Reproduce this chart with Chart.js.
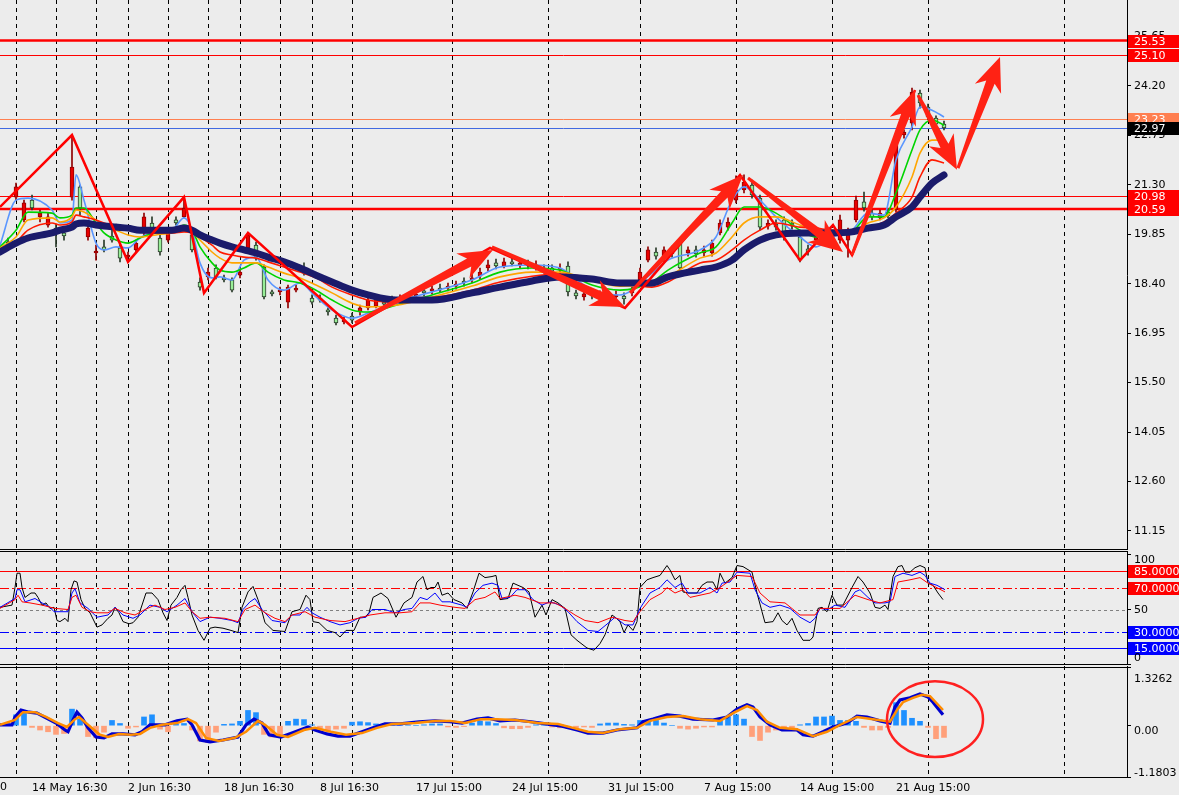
<!DOCTYPE html>
<html>
<head>
<meta charset="utf-8">
<title>Chart</title>
<script src="https://cdn.jsdelivr.net/npm/chart.js"></script>
<style>
html,body{margin:0;padding:0;background:#ececec;overflow:hidden;}
#wrap{position:relative;width:1179px;height:795px;background:#ececec;}
#wrap canvas{position:absolute;left:0;}
</style>
</head>
<body>
<div id="wrap">
<canvas id="cMain" width="1179" height="550" style="top:0px"></canvas>
<canvas id="cOsc" width="1179" height="114" style="top:551px"></canvas>
<canvas id="cMacd" width="1179" height="129" style="top:666px"></canvas>
</div>
<script>
// ---------------- DATA ----------------
// candles (one every 2 bars, bar index = 2,4,...,236)
const candleOpen = [19.62,20.94,20.27,20.85,20.36,20.12,20.03,19.89,20.94,21.24,
19.77,19.30,19.48,19.80,19.45,19.18,19.39,19.89,20.18,19.74,
19.68,20.27,20.36,19.83,18.45,18.60,18.86,18.57,18.51,18.65,
19.45,19.53,18.89,18.13,18.16,17.86,18.21,18.89,17.98,17.98,
17.63,17.39,17.28,17.45,17.57,17.69,17.74,17.86,17.92,17.92,
18.01,18.04,18.16,18.19,18.27,18.27,18.33,18.48,18.51,18.62,
18.86,19.01,18.92,19.04,18.95,18.98,18.89,18.83,18.86,18.80,
18.92,18.13,18.01,18.13,18.04,18.10,18.01,18.04,18.13,18.42,
19.09,19.33,19.15,19.39,19.59,19.30,19.39,19.30,19.30,19.89,
20.06,20.85,21.15,21.29,20.91,20.09,20.15,20.27,20.18,19.77,
19.42,19.68,19.74,19.89,19.68,19.68,20.27,20.80,20.47,20.33,
20.50,20.56,22.76,23.11,23.99,23.58,23.26,23.08];
const candleHigh = [19.74,21.35,20.85,21.00,20.56,20.47,20.15,19.97,22.76,21.29,
20.12,19.53,19.68,19.97,19.53,19.33,19.68,20.47,20.36,19.83,
20.03,20.36,20.94,19.92,18.57,18.86,18.95,18.65,18.57,18.86,
19.89,19.62,18.95,18.21,18.30,18.36,18.36,19.01,18.07,18.07,
17.69,17.48,17.42,17.54,17.77,18.01,18.01,17.95,18.04,18.07,
18.13,18.19,18.27,18.33,18.39,18.42,18.48,18.57,18.68,18.86,
19.09,19.12,19.15,19.15,19.12,19.09,19.07,18.95,18.95,18.98,
19.04,18.21,18.19,18.21,18.19,18.19,18.19,18.13,18.30,18.86,
19.48,19.45,19.48,19.50,19.68,19.48,19.50,19.50,19.68,20.27,
20.33,21.56,21.59,21.44,21.00,20.27,20.27,20.36,20.27,19.89,
19.53,19.92,19.94,19.97,20.41,20.03,20.97,21.09,20.56,20.56,
20.59,22.76,22.91,24.14,24.08,23.67,23.32,23.17];
const candleLow = [19.39,20.85,20.21,20.56,20.21,20.06,19.48,19.68,20.85,20.41,
19.68,19.09,19.33,19.62,19.04,19.04,19.33,19.83,19.83,19.24,
19.62,20.12,20.33,19.33,18.21,18.51,18.54,18.45,18.16,18.57,
19.39,19.09,17.95,18.04,18.07,17.69,18.16,18.65,17.80,17.86,
17.48,17.19,17.22,17.25,17.48,17.63,17.69,17.72,17.77,17.83,
17.86,17.95,18.04,18.10,18.16,18.19,18.24,18.33,18.42,18.54,
18.77,18.83,18.86,18.92,18.86,18.83,18.80,18.71,18.68,18.71,
18.04,17.95,17.92,17.95,17.92,17.92,17.92,17.80,18.04,18.36,
19.04,19.12,19.04,19.18,18.80,19.21,19.18,19.21,19.21,19.83,
19.97,20.77,21.06,20.91,19.97,20.00,19.97,19.68,20.00,19.04,
19.24,19.62,19.65,19.65,19.59,19.18,20.21,20.53,20.27,20.27,
20.33,20.50,22.67,22.91,23.55,23.20,23.02,22.91];
const candleClose = [19.50,21.24,20.77,20.62,20.47,20.36,19.92,19.80,21.82,20.62,
20.03,19.36,19.39,19.68,19.15,19.24,19.59,20.36,19.89,19.33,
19.97,20.18,20.62,19.39,18.30,18.74,18.60,18.51,18.21,18.74,
19.83,19.18,18.01,18.10,18.21,18.30,18.27,18.71,17.86,17.92,
17.57,17.25,17.33,17.33,17.69,17.92,17.92,17.80,17.86,17.98,
17.95,18.07,18.13,18.21,18.21,18.33,18.39,18.42,18.57,18.74,
18.95,18.92,19.04,18.98,19.01,18.92,18.95,18.80,18.77,18.86,
18.16,18.04,18.10,18.04,18.10,18.01,18.07,17.95,18.21,18.74,
19.39,19.21,19.39,19.27,18.86,19.39,19.27,19.39,19.59,20.18,
20.21,21.15,21.38,21.00,20.06,20.18,20.06,19.77,20.09,19.09,
19.33,19.80,19.86,19.74,20.27,19.92,20.85,20.62,20.36,20.47,
20.39,22.61,22.85,24.02,23.70,23.29,23.08,22.97];

// moving-average ribbon (sampled at these bars)
const ribbonBars = [0,4,7,13,15,18,19,21,24,26,29,32,35,39,43,46,48,50,53,55,58,61,64,67,71,75,79,83,88,92,99,108,118,125,133,140,148,155,163,167,175,179,183,186,190,194,200,204,208,213,217,221,224,228,230,233,236];
const maNavy = [19.33,19.59,19.74,19.89,19.97,20.06,20.15,20.18,20.12,20.09,20.06,20.03,19.97,19.97,19.97,20.03,19.97,19.83,19.68,19.59,19.48,19.39,19.30,19.18,19.04,18.86,18.65,18.45,18.21,18.07,17.92,17.92,18.13,18.30,18.48,18.60,18.54,18.42,18.42,18.60,18.80,18.89,19.09,19.39,19.68,19.83,19.89,19.89,19.89,19.92,20.03,20.12,20.36,20.65,20.94,21.35,21.59];
const maBlue = [19.53,20.85,20.91,20.56,20.18,20.27,21.59,20.85,19.59,19.39,19.48,19.45,19.74,19.92,19.97,20.33,19.97,19.01,18.57,18.60,18.51,19.09,19.18,18.51,18.21,18.42,18.01,17.63,17.39,17.54,17.86,18.16,18.51,18.89,18.95,18.86,18.21,18.07,18.71,19.09,19.39,19.77,20.85,21.24,20.85,20.36,19.77,19.48,19.77,19.97,20.47,20.41,22.03,23.00,23.58,23.49,23.29];
const maGreen = [19.48,19.97,20.50,20.47,20.33,20.41,20.62,20.62,20.18,19.89,19.68,19.59,19.74,19.89,19.92,20.12,19.97,19.48,19.01,18.80,18.74,18.86,19.01,18.74,18.51,18.42,18.21,17.92,17.63,17.57,17.77,18.07,18.42,18.74,18.86,18.80,18.36,18.21,18.45,18.80,19.30,19.48,20.18,20.65,20.65,20.47,19.97,19.77,19.83,19.92,20.36,20.36,21.06,22.32,22.91,23.20,23.05];
const maOrange = [19.45,19.77,20.27,20.33,20.21,20.36,20.56,20.50,20.27,20.12,19.97,19.83,19.77,19.83,19.89,19.97,19.92,19.68,19.33,19.15,19.01,19.01,19.01,18.89,18.71,18.57,18.36,18.13,17.83,17.72,17.77,18.01,18.33,18.60,18.74,18.74,18.48,18.33,18.36,18.60,19.15,19.30,19.77,20.18,20.36,20.36,20.12,19.97,19.92,19.92,20.18,20.33,20.65,21.53,22.23,22.61,22.61];
const maRed = [19.39,19.62,19.97,20.18,20.12,20.21,20.41,20.36,20.27,20.18,20.06,19.97,19.92,19.89,19.89,19.92,19.89,19.77,19.53,19.33,19.24,19.18,19.15,19.04,18.89,18.74,18.57,18.30,18.07,17.92,17.86,17.98,18.21,18.45,18.62,18.68,18.57,18.42,18.30,18.45,19.01,19.09,19.39,19.68,19.97,20.18,20.06,20.03,19.97,19.97,20.06,20.21,20.47,20.94,21.53,22.03,21.94];

// zigzag and drawn trend arrows: [bar, price]
const zigzag = [[0,20.65],[18,22.76],[32,19.04],[46,20.94],[51,18.13],[62,19.89],[88,17.13],[122.5,19.45],[156.25,17.69],[185,21.59],[200,19.09],[208.25,20.12],[213,19.24],[228.75,24.08]];
const trendArrows = [
  [[88.75,17.25],[123.25,19.39]],
  [[123,19.48],[156.25,17.72]],
  [[157.5,18.13],[185.75,21.59]],
  [[187,21.50],[210.75,19.33]],
  [[213,19.24],[228.75,24.08]],
  [[229.5,23.93],[239.25,21.74]],
  [[239.5,21.79],[250,25.05]]
];
const priceLevels = [25.53, 25.10, 23.23, 22.97, 20.98, 20.59];
const priceTicks = [25.65, 24.20, 22.75, 21.30, 19.85, 18.40, 16.95, 15.50, 14.05, 12.60, 11.15];

// period separators (bar index)
const separators = [4,14,24,32,42,52,60,70,78,88,113,137,160,184,208,232,266];
// time axis
const xTickBars = [8,32,56,80,104,128,152,176,200,224];
const xTickLabels = ['14 May 16:30','2 Jun 16:30','18 Jun 16:30','8 Jul 16:30','17 Jul 15:00','24 Jul 15:00','31 Jul 15:00','7 Aug 15:00','14 Aug 15:00','21 Aug 15:00'];

// oscillator panel: [bar, value]
const oscBlack = [[0,52],[3,54],[3.75,70],[4.25,83],[5,83],[5.5,70],[6.25,61],[7.75,65],[8.75,65],[9.5,61],[10.5,54],[11.5,56],[12.5,51],[13.5,52],[14.25,40],[15,39],[16.25,42],[17,39],[17.75,68],[18.5,76],[19.25,75],[20.25,59],[21.25,51],[22.5,47],[24.25,34],[25.5,36],[27,42],[28,45],[28.75,52],[29.75,47],[30.75,39],[32.25,37],[33.25,38],[34.5,43],[36.5,65],[38,65],[39.5,59],[40.75,47],[41.75,40],[42.75,54],[44.25,61],[45.25,68],[46.25,72],[47,61],[48,45],[49.5,31],[51,22],[52.5,33],[53.75,34],[55.75,33],[57.75,31],[59.5,29],[60.5,52],[62,66],[63.25,71],[64.5,59],[65.5,48],[66.25,38],[68.25,31],[71.25,30],[73,48],[75,50],[76.5,63],[77.5,59],[78.25,39],[79.75,38],[81.75,31],[83.75,29],[85,25],[86.5,31],[88.5,31],[90,43],[91.25,43],[92.25,47],[93.25,61],[95.25,65],[97,60],[99,43],[101,56],[103,61],[104.25,75],[105.75,80],[106.75,68],[107.75,70],[108.75,70],[109.5,75],[110.5,63],[112,65],[113.5,59],[115.5,56],[116.75,51],[118.25,66],[119.75,83],[121.25,79],[123,80],[124,81],[125,59],[127,60],[128.25,74],[130.75,70],[132.25,66],[133.75,43],[135.5,54],[136.5,45],[138,59],[139.5,56],[141.25,51],[142.75,27],[144.25,22],[146.75,15],[148.5,13],[150,19],[151.25,27],[153,45],[153.75,43],[155,39],[156,29],[157,36],[158.25,31],[159.25,39],[160,70],[161.75,77],[163.25,79],[165,81],[166.75,90],[167.5,86],[168.75,77],[170,81],[170.75,66],[172,65],[174.25,65],[175.5,72],[176.75,75],[178.25,75],[179.25,68],[180,83],[181.25,74],[183,79],[184.25,90],[185.75,89],[188,84],[189.25,65],[190.5,48],[191.25,38],[193.25,39],[194.5,47],[195.5,40],[196.75,36],[198,42],[199.25,31],[200.75,22],[202.5,22],[203.25,25],[204.5,51],[205.5,52],[206.75,48],[208,63],[209.25,54],[210.75,54],[213,70],[214.5,80],[215.75,75],[217.5,65],[218.75,52],[220,51],[221.25,54],[222,50],[223.25,80],[224.5,89],[225.5,90],[226.25,84],[227.5,84],[228.75,88],[230,90],[231.25,88],[232,74],[233.25,72],[234.5,65],[235.75,59]];
const oscBlue = [[0,52],[3.75,60],[4.25,68],[5,68],[6.25,57],[8.75,60],[10.5,56],[12.5,52],[13.5,48],[17,48],[18,65],[18.75,69],[20,56],[22,51],[24.25,43],[27,45],[28.75,52],[30.75,45],[33.25,42],[35,45],[37.5,54],[40,52],[41.75,48],[44.25,54],[46.25,60],[48,48],[50,39],[52.5,43],[55,42],[58,40],[59.5,38],[60.75,50],[62.5,57],[63.75,60],[65.5,50],[68,40],[71.25,38],[73,45],[75,45],[76.75,52],[78,47],[80,43],[82.5,39],[85,36],[87.5,38],[89.5,42],[91.5,43],[93,50],[96.25,50],[98.75,47],[101,50],[103,51],[105,61],[106.75,59],[108.75,65],[110.5,57],[112.5,57],[115.5,54],[116.75,52],[118.75,65],[120.75,72],[123,74],[124.5,72],[125.5,60],[127.5,61],[129.25,68],[131.25,68],[133.25,59],[135.5,54],[137.5,57],[140,54],[142,48],[144.25,39],[147,31],[149.5,30],[152.5,39],[153.75,43],[156.25,36],[158.25,36],[160,51],[162.5,65],[165,70],[166.75,77],[168.75,70],[170.5,74],[172,65],[175,65],[177.5,70],[179.25,65],[180.5,74],[182.5,75],[184.25,84],[187.5,83],[188.75,68],[190.5,56],[192.5,52],[195,54],[197.5,51],[200,43],[202.5,38],[203.75,42],[205,51],[207,50],[208.75,54],[211.25,52],[213.75,66],[215,68],[217,61],[218.75,56],[221.25,56],[222.5,57],[223.75,80],[225.75,83],[228,81],[230,84],[231.25,81],[232.5,74],[234.25,72],[236.25,68]];
const oscRed = [[0,51],[3.75,59],[4.5,63],[5.5,57],[7.5,56],[10.5,54],[13.75,51],[17,50],[18,61],[19,63],[20.5,52],[22.5,48],[24.25,47],[27,47],[28.75,51],[31.25,47],[33.75,45],[36.25,50],[38.75,54],[41.25,50],[43.75,52],[46.25,56],[48,48],[50,42],[52.5,43],[56.25,42],[59.5,39],[61.25,50],[63.75,54],[66.25,47],[68.75,42],[71.25,39],[73,45],[76.25,48],[78.75,43],[82.5,40],[86.25,39],[89.5,42],[92.5,45],[96.25,47],[100,47],[103,48],[105,56],[107.5,56],[110,54],[113.75,52],[116.25,51],[118.75,59],[121.25,61],[123.75,66],[125,60],[128.75,63],[131.25,61],[135,56],[138.75,56],[141.25,51],[143.75,45],[146.25,40],[149.5,38],[153,43],[156.25,40],[158.25,39],[160,48],[162.5,59],[165.5,65],[166.75,70],[168.75,65],[170.75,68],[172.5,61],[177.5,65],[180,70],[184.25,81],[188,80],[190,65],[192.5,57],[196.25,56],[200,45],[203.75,45],[205,51],[207.5,51],[210,51],[213.75,63],[217,59],[220,56],[223.25,59],[224.5,75],[227.5,77],[230,79],[232,74],[236.25,66]];
const oscLevels = [85, 70, 50, 30, 15];
const oscTicks = [100, 85, 70, 50, 30, 15, 0];
const oscTickText = [100, 50, 0];

// MACD panel
const macdHist = [0.02,0.25,0.30,-0.04,-0.10,-0.14,-0.20,-0.18,0.38,0.15,
-0.25,-0.28,-0.15,0.12,0.05,-0.06,-0.03,0.20,0.25,-0.08,
-0.14,0.04,0.05,-0.10,-0.35,-0.39,-0.15,0.03,0.04,0.10,
0.35,0.30,-0.20,-0.26,-0.20,0.10,0.15,0.14,0.02,-0.06,
-0.10,-0.08,-0.06,0.08,0.09,0.07,0.04,0.02,0.02,0.01,
0.01,0.00,0.02,0.04,0.04,-0.03,-0.04,-0.02,0.06,0.10,
0.09,0.05,-0.05,-0.07,-0.07,-0.04,0.02,0.01,-0.03,-0.05,
-0.06,-0.05,-0.03,-0.04,0.04,0.06,0.06,0.03,0.02,0.12,
0.12,0.12,0.06,0.00,-0.06,-0.08,-0.06,-0.03,-0.03,0.12,
0.20,0.25,0.15,-0.25,-0.34,-0.15,-0.10,-0.10,-0.05,0.02,
0.05,0.20,0.20,0.22,0.12,0.12,0.10,-0.04,-0.10,-0.10,
-0.04,0.53,0.35,0.17,0.10,-0.04,-0.30,-0.27];
const macdMain = [[0,0.02],[3,0.02],[3.75,0.20],[5.25,0.36],[7.25,0.31],[9.25,0.29],[11.5,0.18],[14,0.06],[16.25,-0.10],[17,-0.14],[18.25,0.13],[19.25,0.31],[20.5,0.18],[22,-0.05],[24,-0.26],[26,-0.28],[28,-0.19],[30.75,-0.19],[33.75,-0.21],[35.5,-0.14],[37.5,0.02],[41.25,0.02],[44.25,0.11],[46.75,0.15],[48,0.02],[50,-0.33],[52.5,-0.37],[55.75,-0.33],[59.5,-0.26],[61.5,0.02],[63.5,0.15],[65.5,0.06],[67.25,-0.21],[70.25,-0.26],[73,-0.17],[77,-0.03],[78.75,-0.10],[81.75,-0.19],[84.5,-0.24],[87.5,-0.24],[90.5,-0.14],[93.25,-0.05],[96.25,0.04],[100,0.04],[104.75,0.09],[108.75,0.11],[112.5,0.09],[115.5,0.06],[119.25,0.15],[122,0.18],[125,0.11],[128.75,0.13],[132.75,0.09],[136.5,0.04],[140.5,-0.01],[144.25,-0.10],[147,-0.17],[150.75,-0.17],[154.25,-0.10],[159.25,-0.05],[160.75,0.09],[163.25,0.15],[166.75,0.25],[170,0.22],[173.25,0.15],[178.25,0.13],[181.75,0.20],[184.25,0.38],[186.75,0.48],[188.25,0.43],[190,0.20],[192.5,0.02],[195.5,-0.10],[199.25,-0.10],[200.75,-0.21],[203.25,-0.24],[205.75,-0.14],[208.25,-0.03],[211.75,0.06],[214.25,0.22],[216.75,0.20],[220,0.11],[222.5,0.06],[223.75,0.43],[225,0.59],[227.5,0.64],[230,0.73],[232,0.66],[233.25,0.54],[235.75,0.25]];
const macdSignal = [[0,0.02],[3.75,0.13],[5.75,0.31],[8.75,0.31],[11.5,0.20],[14.5,0.06],[16.75,-0.03],[18.75,0.15],[19.75,0.20],[22,0.02],[25,-0.21],[27,-0.26],[29.75,-0.19],[32.75,-0.21],[35,-0.19],[37.5,-0.05],[40.5,0.02],[44.25,0.06],[47,0.15],[49,0.06],[51.5,-0.28],[54.75,-0.35],[58.75,-0.28],[61.5,-0.14],[64.5,0.11],[66.25,0.02],[69.25,-0.21],[72,-0.26],[76,-0.10],[78.75,-0.05],[82.75,-0.14],[86.5,-0.21],[90.5,-0.17],[94.25,-0.05],[98,0.04],[103.75,0.06],[108.75,0.11],[112.5,0.11],[116.25,0.06],[120.25,0.15],[124,0.15],[128.75,0.13],[134.5,0.06],[139.5,0.04],[143.25,-0.05],[147,-0.14],[150.75,-0.17],[155,-0.08],[159.25,-0.05],[162.5,0.11],[166.75,0.20],[170.75,0.22],[175,0.15],[180,0.11],[183.25,0.29],[186.75,0.45],[189.25,0.36],[191.75,0.09],[195,-0.05],[199.25,-0.08],[203.25,-0.24],[206.75,-0.14],[210,0.02],[214.25,0.20],[218.25,0.15],[222.5,0.09],[224.25,0.36],[225.75,0.54],[228.25,0.64],[230.5,0.71],[232.5,0.68],[235.75,0.36]];
const macdTicks = [1.3262, 0, -1.1803];
const macdCircle = {bar: 233.75, value: 0.15, rBars: 12, rValue: 0.87};

// ---------------- STYLE / DRAWING ----------------
const FONT = '11px "DejaVu Sans"';
const AXIS_W = 52;
const X_MAX = 281.75;
Chart.defaults.font.family = 'DejaVu Sans';
Chart.defaults.font.size = 11;
Chart.defaults.color = '#000';

const candleBars = candleClose.map((_, i) => 2 * (i + 1));
const isUp = candleClose.map((c, i) => c >= candleOpen[i]);
const toXY = arr => arr.map(p => ({x: p[0], y: p[1]}));
const ribbon = vals => ribbonBars.map((b, i) => ({x: b, y: vals[i]}));

function yAxisFit(s){ s.width = AXIS_W; s.paddingTop = 0; s.paddingBottom = 0; }
function xAxisFit(s){ s.height = 18; s.paddingLeft = 0; s.paddingRight = 0; }

const separatorPlugin = {
  id: 'separators',
  beforeDatasetsDraw(chart){
    const {ctx, chartArea: a, scales: {x}} = chart;
    ctx.save();
    ctx.strokeStyle = '#000'; ctx.lineWidth = 1; ctx.setLineDash([4, 4]);
    separators.forEach(b => {
      const px = Math.round(x.getPixelForValue(b)) + 0.5;
      ctx.beginPath(); ctx.moveTo(px, a.top); ctx.lineTo(px, a.bottom); ctx.stroke();
    });
    ctx.restore();
  }
};

function frame(topOff, bottomOff){
  return {
    id: 'frame',
    afterDraw(chart){
      const {ctx, chartArea: a} = chart;
      ctx.save(); ctx.strokeStyle = '#000'; ctx.lineWidth = 1;
      if (topOff !== null){ ctx.beginPath(); ctx.moveTo(0, a.top + topOff); ctx.lineTo(a.right, a.top + topOff); ctx.stroke(); }
      if (bottomOff !== null){ ctx.beginPath(); ctx.moveTo(0, a.bottom - bottomOff); ctx.lineTo(a.right, a.bottom - bottomOff); ctx.stroke(); }
      ctx.restore();
    }
  };
}

const priceLevelStyle = [
  {line: '#ff0000', width: 2.5, box: '#ff0000'},
  {line: '#ff0000', width: 1, box: '#ff0000'},
  {line: '#ff7f50', width: 1, box: '#ff7f50'},
  {line: '#4169e1', width: 1, box: '#000000'},
  {line: '#ff0000', width: 1, box: '#ff0000'},
  {line: '#ff0000', width: 2.5, box: '#ff0000'}
];

const mainLevelsPlugin = {
  id: 'mainLevels',
  beforeDatasetsDraw(chart){
    const {ctx, chartArea: a, scales: {y}} = chart;
    ctx.save();
    priceLevels.forEach((v, i) => {
      const st = priceLevelStyle[i];
      let py = y.getPixelForValue(v);
      if (st.width === 1) py = Math.round(py) + 0.5;
      ctx.strokeStyle = st.line; ctx.lineWidth = st.width;
      ctx.beginPath(); ctx.moveTo(a.left, py); ctx.lineTo(a.right, py); ctx.stroke();
    });
    ctx.restore();
  },
  afterDraw(chart){
    const {ctx, chartArea: a, scales: {y}, width} = chart;
    ctx.save();
    ctx.font = FONT; ctx.textBaseline = 'middle'; ctx.textAlign = 'left';
    priceLevels.forEach((v, i) => {
      const st = priceLevelStyle[i];
      const py = Math.round(y.getPixelForValue(v));
      ctx.fillStyle = st.box; ctx.fillRect(a.right + 1, py - 6, width - a.right - 1, 13);
      ctx.fillStyle = '#ffffff'; ctx.fillText(v.toFixed(2), a.right + 7, py + 1);
    });
    ctx.restore();
  }
};

function drawArrow(ctx, x0, y0, x1, y1){
  const ang = Math.atan2(y1 - y0, x1 - x0);
  const len = Math.hypot(x1 - x0, y1 - y0);
  const headL = 34, headW = 14, notch = 7, w0 = 1.5, w1 = 4.5;
  ctx.save(); ctx.translate(x0, y0); ctx.rotate(ang);
  ctx.beginPath();
  ctx.moveTo(0, -w0); ctx.lineTo(len - headL + notch, -w1); ctx.lineTo(len - headL, -headW);
  ctx.lineTo(len, 0);
  ctx.lineTo(len - headL, headW); ctx.lineTo(len - headL + notch, w1); ctx.lineTo(0, w0);
  ctx.closePath(); ctx.fill();
  ctx.restore();
}

const arrowsPlugin = {
  id: 'arrows',
  afterDatasetsDraw(chart){
    const {ctx, chartArea: a, scales: {x, y}} = chart;
    ctx.save();
    ctx.beginPath(); ctx.rect(a.left, a.top, a.right - a.left, a.bottom - a.top); ctx.clip();
    ctx.fillStyle = '#ff2214';
    trendArrows.forEach(([p0, p1]) => {
      drawArrow(ctx, x.getPixelForValue(p0[0]), y.getPixelForValue(p0[1]), x.getPixelForValue(p1[0]), y.getPixelForValue(p1[1]));
    });
    ctx.restore();
  }
};

// ---------- main chart ----------
new Chart(document.getElementById('cMain'), {
  type: 'bar',
  data: {
    datasets: [
      {type: 'line', data: toXY(zigzag), borderColor: '#ff0000', borderWidth: 2.5, pointRadius: 0, tension: 0, order: 1},
      {type: 'line', data: ribbon(maNavy), borderColor: '#1b1b6b', borderWidth: 7, pointRadius: 0, cubicInterpolationMode: 'monotone', borderCapStyle: 'round', order: 2},
      {type: 'line', data: ribbon(maRed), borderColor: '#ff1a00', borderWidth: 1.6, pointRadius: 0, cubicInterpolationMode: 'monotone', order: 3},
      {type: 'line', data: ribbon(maOrange), borderColor: '#ffa500', borderWidth: 1.6, pointRadius: 0, cubicInterpolationMode: 'monotone', order: 4},
      {type: 'line', data: ribbon(maGreen), borderColor: '#00d400', borderWidth: 1.6, pointRadius: 0, cubicInterpolationMode: 'monotone', order: 5},
      {type: 'line', data: ribbon(maBlue), borderColor: '#5a96ff', borderWidth: 1.6, pointRadius: 0, cubicInterpolationMode: 'monotone', order: 6},
      {type: 'bar', data: candleBars.map((b, i) => ({x: b, y: [candleOpen[i], candleClose[i]]})),
        backgroundColor: isUp.map(u => u ? '#e80000' : '#98ee98'),
        borderColor: isUp.map(u => u ? '#900000' : '#2a3a2a'),
        borderWidth: 1, borderSkipped: false, barThickness: 4, minBarLength: 2, grouped: false, order: 7},
      {type: 'bar', data: candleBars.map((b, i) => ({x: b, y: [candleLow[i], candleHigh[i]]})),
        backgroundColor: isUp.map(u => u ? '#900000' : '#2a3a2a'),
        barThickness: 1, grouped: false, order: 8}
    ]
  },
  options: {
    responsive: false, animation: false, events: [], devicePixelRatio: 1,
    layout: {padding: 0},
    plugins: {legend: {display: false}, tooltip: {enabled: false}},
    scales: {
      x: {type: 'linear', min: 0, max: X_MAX, display: false, offset: false},
      y: {type: 'linear', position: 'right', min: 10.59, max: 26.72, bounds: 'data',
        afterFit: yAxisFit,
        afterBuildTicks: s => { s.ticks = priceTicks.map(v => ({value: v})); },
        ticks: {autoSkip: false, padding: 3, color: '#000', font: {size: 11}, callback: v => Number(v).toFixed(2)},
        grid: {drawOnChartArea: false, drawTicks: true, tickLength: 4, color: '#000'},
        border: {display: true, color: '#000', width: 1}}
    }
  },
  plugins: [separatorPlugin, mainLevelsPlugin, arrowsPlugin, frame(null, 0.5)]
});

// ---------- oscillator chart ----------
const oscLevelStyle = [
  {color: '#ff0000', dash: [], box: '#ff0000'},
  {color: '#ff0000', dash: [9, 3, 2, 3], box: '#ff0000'},
  {color: '#808080', dash: [3, 3], box: null},
  {color: '#0000ff', dash: [9, 3, 2, 3], box: '#0000ff'},
  {color: '#0000ff', dash: [], box: '#0000ff'}
];
const oscLevelsPlugin = {
  id: 'oscLevels',
  beforeDatasetsDraw(chart){
    const {ctx, chartArea: a, scales: {y}} = chart;
    ctx.save(); ctx.lineWidth = 1;
    oscLevels.forEach((v, i) => {
      const st = oscLevelStyle[i];
      const py = Math.round(y.getPixelForValue(v)) + 0.5;
      ctx.strokeStyle = st.color; ctx.setLineDash(st.dash);
      ctx.beginPath(); ctx.moveTo(a.left, py); ctx.lineTo(a.right, py); ctx.stroke();
    });
    ctx.restore();
  },
  afterDraw(chart){
    const {ctx, chartArea: a, scales: {y}, width} = chart;
    ctx.save(); ctx.font = FONT; ctx.textBaseline = 'middle'; ctx.textAlign = 'left';
    oscLevels.forEach((v, i) => {
      const st = oscLevelStyle[i];
      if (!st.box) return;
      const py = Math.round(y.getPixelForValue(v));
      ctx.fillStyle = st.box; ctx.fillRect(a.right + 1, py - 6, width - a.right - 1, 13);
      ctx.fillStyle = '#ffffff'; ctx.fillText(v.toFixed(4), a.right + 7, py + 1);
    });
    ctx.restore();
  }
};
function sideLabels(values, fmt, offset, padTop, padBottom){
  return {
    id: 'sideLabels',
    afterDraw(chart){
      const {ctx, chartArea: a, scales: {y}} = chart;
      ctx.save(); ctx.font = FONT; ctx.fillStyle = '#000'; ctx.textAlign = 'left'; ctx.textBaseline = 'middle';
      values.forEach(v => {
        let py = y.getPixelForValue(v) + offset;
        py = Math.min(Math.max(py, a.top + padTop), a.bottom - padBottom);
        ctx.fillText(fmt(v), a.right + 7, py);
      });
      ctx.restore();
    }
  };
}
new Chart(document.getElementById('cOsc'), {
  type: 'line',
  data: {
    datasets: [
      {data: toXY(oscRed), borderColor: '#ff0000', borderWidth: 1, pointRadius: 0, tension: 0, order: 1},
      {data: toXY(oscBlue), borderColor: '#0000ff', borderWidth: 1, pointRadius: 0, tension: 0, order: 2},
      {data: toXY(oscBlack), borderColor: '#000000', borderWidth: 1, pointRadius: 0, tension: 0, order: 3}
    ]
  },
  options: {
    responsive: false, animation: false, events: [], devicePixelRatio: 1,
    layout: {padding: 0},
    plugins: {legend: {display: false}, tooltip: {enabled: false}},
    scales: {
      x: {type: 'linear', min: 0, max: X_MAX, display: false, offset: false},
      y: {type: 'linear', position: 'right', min: -0.45, max: 103.2, bounds: 'data',
        afterFit: yAxisFit,
        afterBuildTicks: s => { s.ticks = oscTicks.map(v => ({value: v})); },
        ticks: {autoSkip: false, padding: 3, callback: () => ''},
        grid: {drawOnChartArea: false, drawTicks: true, tickLength: 4, color: '#000'},
        border: {display: true, color: '#000', width: 1}}
    }
  },
  plugins: [separatorPlugin, oscLevelsPlugin, sideLabels(oscTickText, v => String(v), 0.5, 9, 7), frame(0.5, 0.5)]
});

// ---------- MACD chart ----------
const circlePlugin = {
  id: 'circle',
  afterDatasetsDraw(chart){
    const {ctx, scales: {x, y}} = chart;
    const cx = x.getPixelForValue(macdCircle.bar), cy = y.getPixelForValue(macdCircle.value);
    const rx = Math.abs(x.getPixelForValue(macdCircle.bar + macdCircle.rBars) - cx);
    const ry = Math.abs(y.getPixelForValue(macdCircle.value + macdCircle.rValue) - cy);
    ctx.save(); ctx.strokeStyle = '#ff2020'; ctx.lineWidth = 2.5;
    ctx.beginPath(); ctx.ellipse(cx, cy, rx, ry, 0, 0, Math.PI * 2); ctx.stroke();
    ctx.restore();
  }
};
const leftStubPlugin = {
  id: 'leftStub',
  afterDraw(chart){
    const {ctx, chartArea: a} = chart;
    ctx.save(); ctx.font = FONT; ctx.fillStyle = '#000'; ctx.textAlign = 'left'; ctx.textBaseline = 'top';
    ctx.fillText('0', 0, a.bottom + 5);
    ctx.restore();
  }
};
new Chart(document.getElementById('cMacd'), {
  type: 'bar',
  data: {
    datasets: [
      {type: 'line', data: toXY(macdSignal), borderColor: '#ff8c00', borderWidth: 2.5, pointRadius: 0, tension: 0, order: 1},
      {type: 'line', data: toXY(macdMain), borderColor: '#0000cd', borderWidth: 3.2, pointRadius: 0, tension: 0, order: 2},
      {type: 'bar', data: candleBars.map((b, i) => ({x: b, y: macdHist[i]})),
        backgroundColor: macdHist.map(v => v >= 0 ? '#1e90ff' : '#ffa07a'),
        barThickness: 5, grouped: false, order: 3}
    ]
  },
  options: {
    responsive: false, animation: false, events: [], devicePixelRatio: 1,
    layout: {padding: 0},
    plugins: {legend: {display: false}, tooltip: {enabled: false}},
    scales: {
      x: {type: 'linear', min: 0, max: X_MAX, offset: false, position: 'bottom',
        afterFit: xAxisFit,
        afterBuildTicks: s => { s.ticks = xTickBars.map(v => ({value: v})); },
        ticks: {autoSkip: false, maxRotation: 0, minRotation: 0, align: 'start', padding: 5, color: '#000',
          callback: (v, i) => xTickLabels[i]},
        grid: {display: false, drawTicks: false},
        border: {display: true, color: '#000', width: 1}},
      y: {type: 'linear', position: 'right', min: -1.1803, max: 1.372, bounds: 'data',
        afterFit: yAxisFit,
        afterBuildTicks: s => { s.ticks = macdTicks.map(v => ({value: v})); },
        ticks: {autoSkip: false, padding: 3, callback: () => ''},
        grid: {drawOnChartArea: false, drawTicks: true, tickLength: 4, color: '#000'},
        border: {display: true, color: '#000', width: 1}}
    }
  },
  plugins: [separatorPlugin, circlePlugin, leftStubPlugin,
    sideLabels(macdTicks, v => v === 0 ? '0.00' : v.toFixed(4), 5, 13, 4), frame(1.5, null)]
});
</script>
</body>
</html>
